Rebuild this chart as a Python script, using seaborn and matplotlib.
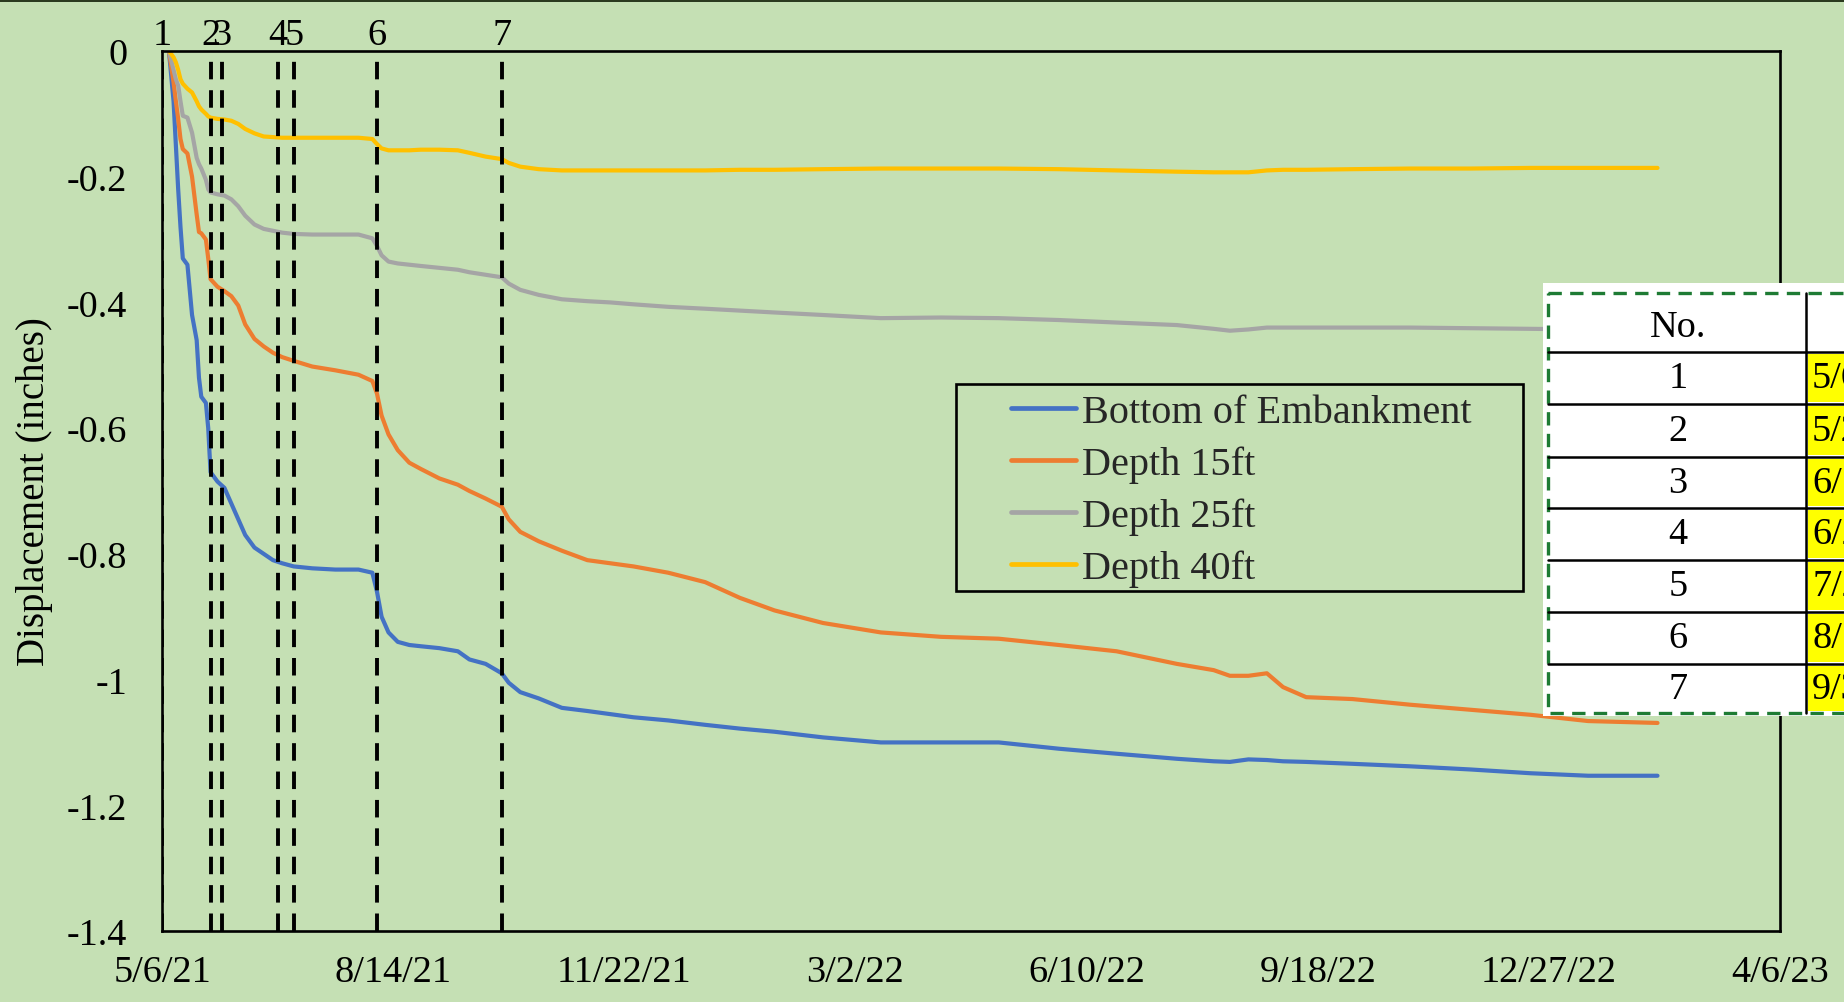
import matplotlib
matplotlib.use("Agg")
import matplotlib.pyplot as plt
import matplotlib.dates as mdates
import numpy as np
import pandas as pd
import seaborn as sns
from matplotlib.patches import Rectangle
from matplotlib.lines import Line2D
import matplotlib.transforms as mtransforms

# ---------------- data ----------------
install_date = "5/6/21"
elapsed_days = [3, 5, 6, 7, 8, 9, 11, 13, 15, 16, 17, 19, 20, 21, 24, 27, 30, 33, 36, 40,
                44, 48, 52, 57, 65, 75, 85, 91, 93, 95, 98, 102, 107, 112, 120, 128, 133,
                140, 147, 150, 155, 163, 173, 184, 194, 204, 219, 235, 250, 265, 286, 311,
                337, 362, 388, 413, 439, 455, 462, 470, 478, 485, 495, 515, 540, 566, 592,
                617, 647]

bottom_embankment = [0, -0.08, -0.15, -0.22, -0.28, -0.33, -0.34, -0.42, -0.46, -0.52, -0.55,
                     -0.56, -0.60, -0.67, -0.685, -0.695, -0.72, -0.745, -0.77, -0.79, -0.80,
                     -0.81, -0.815, -0.82, -0.823, -0.825, -0.825, -0.83, -0.86, -0.90, -0.925,
                     -0.94, -0.945, -0.947, -0.95, -0.955, -0.968, -0.975, -0.99, -1.005, -1.02,
                     -1.03, -1.045, -1.05, -1.055, -1.06, -1.065, -1.072, -1.078, -1.083, -1.092,
                     -1.10, -1.10, -1.10, -1.11, -1.118, -1.126, -1.13, -1.131, -1.127, -1.128,
                     -1.13, -1.131, -1.134, -1.138, -1.143, -1.149, -1.153, -1.153]

depth_15ft = [0, -0.05, -0.08, -0.108, -0.14, -0.156, -0.163, -0.20, -0.26, -0.288, -0.29,
              -0.30, -0.33, -0.363, -0.375, -0.382, -0.39, -0.405, -0.435, -0.458, -0.47,
              -0.48, -0.487, -0.493, -0.502, -0.508, -0.515, -0.525, -0.545, -0.58, -0.61,
              -0.635, -0.655, -0.665, -0.68, -0.69, -0.70, -0.712, -0.725, -0.745, -0.765,
              -0.78, -0.795, -0.81, -0.815, -0.82, -0.83, -0.845, -0.87, -0.89, -0.91,
              -0.925, -0.932, -0.935, -0.945, -0.955, -0.975, -0.985, -0.994, -0.994, -0.99,
              -1.012, -1.028, -1.031, -1.04, -1.048, -1.056, -1.066, -1.069]

depth_25ft = [0, -0.03, -0.045, -0.055, -0.08, -0.103, -0.106, -0.13, -0.17, -0.18, -0.187,
              -0.205, -0.22, -0.225, -0.228, -0.23, -0.236, -0.247, -0.262, -0.276, -0.283,
              -0.286, -0.289, -0.291, -0.292, -0.292, -0.292, -0.298, -0.31, -0.325, -0.335,
              -0.338, -0.34, -0.342, -0.345, -0.348, -0.352, -0.356, -0.36, -0.37, -0.38,
              -0.388, -0.395, -0.398, -0.40, -0.403, -0.407, -0.41, -0.413, -0.416, -0.42,
              -0.425, -0.424, -0.425, -0.428, -0.432, -0.436, -0.442, -0.445, -0.443, -0.44,
              -0.44, -0.44, -0.44, -0.44, -0.441, -0.442, -0.443, -0.444]

depth_40ft = [0, -0.01, -0.018, -0.03, -0.045, -0.052, -0.06, -0.066, -0.08, -0.088, -0.093,
              -0.10, -0.104, -0.106, -0.108, -0.109, -0.111, -0.116, -0.124, -0.131, -0.136,
              -0.137, -0.138, -0.138, -0.138, -0.138, -0.138, -0.14, -0.148, -0.155, -0.158,
              -0.158, -0.158, -0.157, -0.157, -0.158, -0.162, -0.168, -0.172, -0.178, -0.184,
              -0.188, -0.19, -0.19, -0.19, -0.19, -0.19, -0.19, -0.189, -0.189, -0.188,
              -0.187, -0.187, -0.187, -0.188, -0.19, -0.192, -0.193, -0.193, -0.193, -0.19,
              -0.189, -0.189, -0.188, -0.187, -0.187, -0.186, -0.186, -0.186]

series_names = ["Bottom of Embankment", "Depth 15ft", "Depth 25ft", "Depth 40ft"]
series_colors = ["#4472C4", "#ED7D31", "#A5A5A5", "#FFC000"]

event_ids = ["1", "2", "3", "4", "5", "6", "7"]
event_dates = ["5/6/21", "5/27/21", "6/1/21", "6/25/21", "7/2/21", "8/7/21", "9/30/21"]

x_tick_labels = ["5/6/21", "8/14/21", "11/22/21", "3/2/22", "6/10/22", "9/18/22",
                 "12/27/22", "4/6/23"]
y_ticks = [0, -0.2, -0.4, -0.6, -0.8, -1.0, -1.2, -1.4]
y_tick_labels = ["0", "-0.2", "-0.4", "-0.6", "-0.8", "-1", "-1.2", "-1.4"]

# ---------------- styling ----------------
BG = "#C5E0B4"
W, H = 1844, 1003

sns.set_theme(style="white")
plt.rcParams["font.family"] = ["Liberation Serif", "DejaVu Serif"]
plt.rcParams["axes.unicode_minus"] = False


def to_date(s):
    return pd.to_datetime(s, format="%m/%d/%y")


start = to_date(install_date)
dates = start + pd.to_timedelta(elapsed_days, unit="D")
wide = pd.DataFrame({"date": dates,
                     series_names[0]: bottom_embankment,
                     series_names[1]: depth_15ft,
                     series_names[2]: depth_25ft,
                     series_names[3]: depth_40ft})
long = wide.melt(id_vars="date", var_name="series", value_name="displacement")

fig = plt.figure(figsize=(W / 100, H / 100), dpi=100, facecolor=BG)
ax = fig.add_axes([162 / W, 1 - 932 / H, (1780 - 162) / W, (932 - 52) / H])
ax.set_facecolor(BG)

sns.lineplot(data=long, x="date", y="displacement", hue="series",
             hue_order=series_names, palette=series_colors, linewidth=3.0,
             legend=False, ax=ax, zorder=2)

# construction-stage markers
blend = mtransforms.blended_transform_factory(ax.transData, ax.transAxes)
for eid, d in zip(event_ids, event_dates):
    xd = mdates.date2num(to_date(d))
    ax.axvline(xd, color="black", lw=2.8, ls=(0, (4.5, 2.8)), zorder=3)
    ax.annotate(eid, xy=(xd, 1.0), xycoords=blend, xytext=(0, 5),
                textcoords="offset points", ha="center", va="baseline",
                fontsize=27.5, color="black", annotation_clip=False)

ax.set_xlim(mdates.date2num(start), mdates.date2num(to_date(x_tick_labels[-1])))
ax.set_ylim(-1.4, 0)
ax.set_xticks([mdates.date2num(to_date(s)) for s in x_tick_labels])
ax.set_xticklabels(x_tick_labels)
ax.set_yticks(y_ticks)
ax.set_yticklabels(y_tick_labels)
ax.tick_params(axis="x", length=0, pad=17, labelsize=27.5, colors="black")
ax.tick_params(axis="y", length=0, pad=25, labelsize=27.5, colors="black")
ax.set_xlabel("")
ax.set_ylabel("")
for sp in ax.spines.values():
    sp.set_visible(True)
    sp.set_color("black")
    sp.set_linewidth(1.9)

fig.text(35 / W, 1 - 492 / H, "Displacement (inches)", rotation=90,
         ha="center", va="center", fontsize=28, color="black")

# legend inside a drawn frame
fig.add_artist(Rectangle((956 / W, 1 - 592 / H), (1523 - 956) / W, (592 - 385) / H,
                         transform=fig.transFigure, facecolor="none",
                         edgecolor="black", lw=1.9, zorder=5))
handles = [Line2D([], [], color=c, lw=3.4) for c in series_colors]
fig.legend(handles, series_names, loc="upper left",
           bbox_to_anchor=(1011 / W, 1 - 395 / H), frameon=False,
           fontsize=29, handlelength=1.62, handletextpad=0.15,
           labelspacing=0.36, borderpad=0, borderaxespad=0)

# dark strip along the top edge
fig.add_artist(Rectangle((0, 1 - 3 / H), 1, 3 / H, transform=fig.transFigure,
                         facecolor="#2B3A1F", edgecolor="none", zorder=6))

# stage table (pixel coordinates)
tax = fig.add_axes([1543 / W, 1 - 717 / H, (W - 1543) / W, (717 - 284) / H])
tax.set_xlim(1543, W)
tax.set_ylim(717, 284)
tax.axis("off")
tax.add_patch(Rectangle((1543, 284), W - 1543 + 10, 717 - 284,
                        facecolor="white", edgecolor="none"))
row_edges = [353, 405, 458, 509, 561, 613, 665, 714]
for i in range(len(event_ids)):
    tax.add_patch(Rectangle((1808, row_edges[i] + 2), 60, row_edges[i + 1] - row_edges[i] - 4,
                            facecolor="#FFFF00", edgecolor="none"))
for yy in row_edges[:-1]:
    tax.plot([1548, W + 5], [yy, yy], color="black", lw=1.8)
tax.plot([1806, 1806], [294, 714], color="black", lw=1.8)
tax.add_patch(Rectangle((1548, 294), 400, 714 - 294, facecolor="none",
                        edgecolor="#1E7B34", lw=2.4, ls=(0, (4, 2.5))))
tax.text(1678, 328, "No.", ha="center", va="center", fontsize=27.5, color="black")
for i, (eid, d) in enumerate(zip(event_ids, event_dates)):
    yc = (row_edges[i] + row_edges[i + 1]) / 2
    tax.text(1678, yc, eid, ha="center", va="center", fontsize=27.5, color="black")
    tax.text(1812, yc, d, ha="left", va="center", fontsize=27.5, color="black")

fig.savefig("out.png", dpi=100, facecolor=BG)
